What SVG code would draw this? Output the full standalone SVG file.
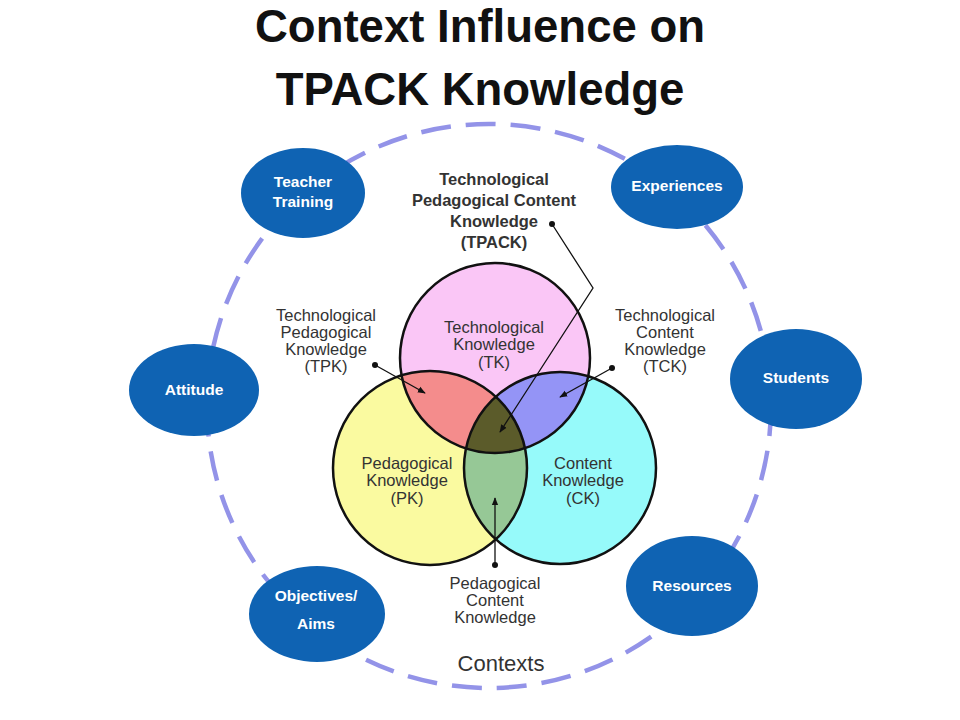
<svg xmlns="http://www.w3.org/2000/svg" width="960" height="720" viewBox="0 0 960 720">
<style>
.title{font-family:"Liberation Sans",Arial,sans-serif;font-weight:bold;font-size:45.5px;fill:#111;text-anchor:middle}
.ctx{fill:#0f63b3}
.ctxt{font-family:"Liberation Sans",Arial,sans-serif;font-weight:bold;font-size:15.5px;fill:#fff;text-anchor:middle}
.lbl{font-family:"Liberation Sans",Arial,sans-serif;font-size:16.5px;fill:#333;text-anchor:middle}
.lblb{font-family:"Liberation Sans",Arial,sans-serif;font-weight:bold;font-size:16.5px;fill:#333;text-anchor:middle}
.ring{fill:none;stroke:#111;stroke-width:2.5}
.arr{fill:none;stroke:#111;stroke-width:1.3}
</style>
<defs>
<clipPath id="cTK"><circle cx="495" cy="358" r="95"/></clipPath>
<clipPath id="cPK"><circle cx="430" cy="468" r="97"/></clipPath>
<clipPath id="cCK"><circle cx="560" cy="468" r="96"/></clipPath>
<marker id="ah" viewBox="0 0 10 10" refX="9" refY="5" markerWidth="8" markerHeight="8" orient="auto" markerUnits="userSpaceOnUse"><path d="M0,1 L10,5 L0,9 z" fill="#111"/></marker>
</defs>
<rect width="960" height="720" fill="#fff"/>
<text class="title" x="480" y="42">Context Influence on</text>
<text class="title" x="480" y="105">TPACK Knowledge</text>

<circle id="context-ring" cx="489" cy="406" r="282" fill="none" stroke="#9393e8" stroke-width="4.5" stroke-dasharray="30 15"/>

<g id="venn">
<circle cx="430" cy="468" r="97" fill="#fafaa0"/>
<circle cx="560" cy="468" r="96" fill="#96fafa"/>
<circle cx="495" cy="358" r="95" fill="#fac6f6"/>
<circle cx="430" cy="468" r="97" fill="#f48c8c" clip-path="url(#cTK)"/>
<circle cx="560" cy="468" r="96" fill="#9494f6" clip-path="url(#cTK)"/>
<circle cx="560" cy="468" r="96" fill="#96c896" clip-path="url(#cPK)"/>
<g clip-path="url(#cTK)"><circle cx="560" cy="468" r="96" fill="#5b5b2a" clip-path="url(#cPK)"/></g>
<circle class="ring" cx="495" cy="358" r="95"/>
<circle class="ring" cx="430" cy="468" r="97"/>
<circle class="ring" cx="560" cy="468" r="96"/>
</g>

<g id="tk-label">
<text class="lbl" x="494" y="333">Technological</text>
<text class="lbl" x="494" y="350">Knowledge</text>
<text class="lbl" x="494" y="368">(TK)</text>
</g>
<g id="pk-label">
<text class="lbl" x="407" y="469">Pedagogical</text>
<text class="lbl" x="407" y="486">Knowledge</text>
<text class="lbl" x="407" y="504">(PK)</text>
</g>
<g id="ck-label">
<text class="lbl" x="583" y="469">Content</text>
<text class="lbl" x="583" y="486">Knowledge</text>
<text class="lbl" x="583" y="504">(CK)</text>
</g>
<g id="tpack-label">
<text class="lblb" x="494" y="185">Technological</text>
<text class="lblb" x="494" y="206">Pedagogical Content</text>
<text class="lblb" x="494" y="227">Knowledge</text>
<text class="lblb" x="494" y="248">(TPACK)</text>
</g>
<g id="tpk-label">
<text class="lbl" x="326" y="321">Technological</text>
<text class="lbl" x="326" y="338">Pedagogical</text>
<text class="lbl" x="326" y="355">Knowledge</text>
<text class="lbl" x="326" y="372">(TPK)</text>
</g>
<g id="tck-label">
<text class="lbl" x="665" y="321">Technological</text>
<text class="lbl" x="665" y="338">Content</text>
<text class="lbl" x="665" y="355">Knowledge</text>
<text class="lbl" x="665" y="372">(TCK)</text>
</g>
<g id="pck-label">
<text class="lbl" x="495" y="589">Pedagogical</text>
<text class="lbl" x="495" y="606">Content</text>
<text class="lbl" x="495" y="623">Knowledge</text>
</g>
<text id="contexts-label" x="501" y="671" font-family="Liberation Sans, Arial, sans-serif" font-size="22" fill="#333" text-anchor="middle">Contexts</text>

<g id="connectors">
<polyline class="arr" points="552,224 593,288 500,432" marker-end="url(#ah)"/>
<circle cx="552" cy="224" r="3" fill="#111"/>
<line class="arr" x1="375" y1="365" x2="425" y2="393" marker-end="url(#ah)"/>
<circle cx="375" cy="365" r="3" fill="#111"/>
<line class="arr" x1="612" y1="368" x2="560" y2="397" marker-end="url(#ah)"/>
<circle cx="612" cy="368" r="3" fill="#111"/>
<line class="arr" x1="495" y1="565" x2="495" y2="498" marker-end="url(#ah)"/>
<circle cx="495" cy="565" r="3" fill="#111"/>
</g>

<g id="teacher-training"><ellipse class="ctx" cx="303" cy="193" rx="62" ry="45"/><text class="ctxt" x="303" y="187">Teacher</text><text class="ctxt" x="303" y="207">Training</text></g>
<g id="experiences"><ellipse class="ctx" cx="677" cy="187" rx="66" ry="42"/><text class="ctxt" x="677" y="191">Experiences</text></g>
<g id="attitude"><ellipse class="ctx" cx="194" cy="390" rx="65" ry="46"/><text class="ctxt" x="194" y="395">Attitude</text></g>
<g id="students"><ellipse class="ctx" cx="796" cy="379" rx="66" ry="50"/><text class="ctxt" x="796" y="383">Students</text></g>
<g id="objectives-aims"><ellipse class="ctx" cx="317" cy="614" rx="68" ry="48"/><text class="ctxt" x="316" y="601">Objectives/</text><text class="ctxt" x="316" y="629">Aims</text></g>
<g id="resources"><ellipse class="ctx" cx="692" cy="586" rx="66" ry="50"/><text class="ctxt" x="692" y="591">Resources</text></g>
</svg>
